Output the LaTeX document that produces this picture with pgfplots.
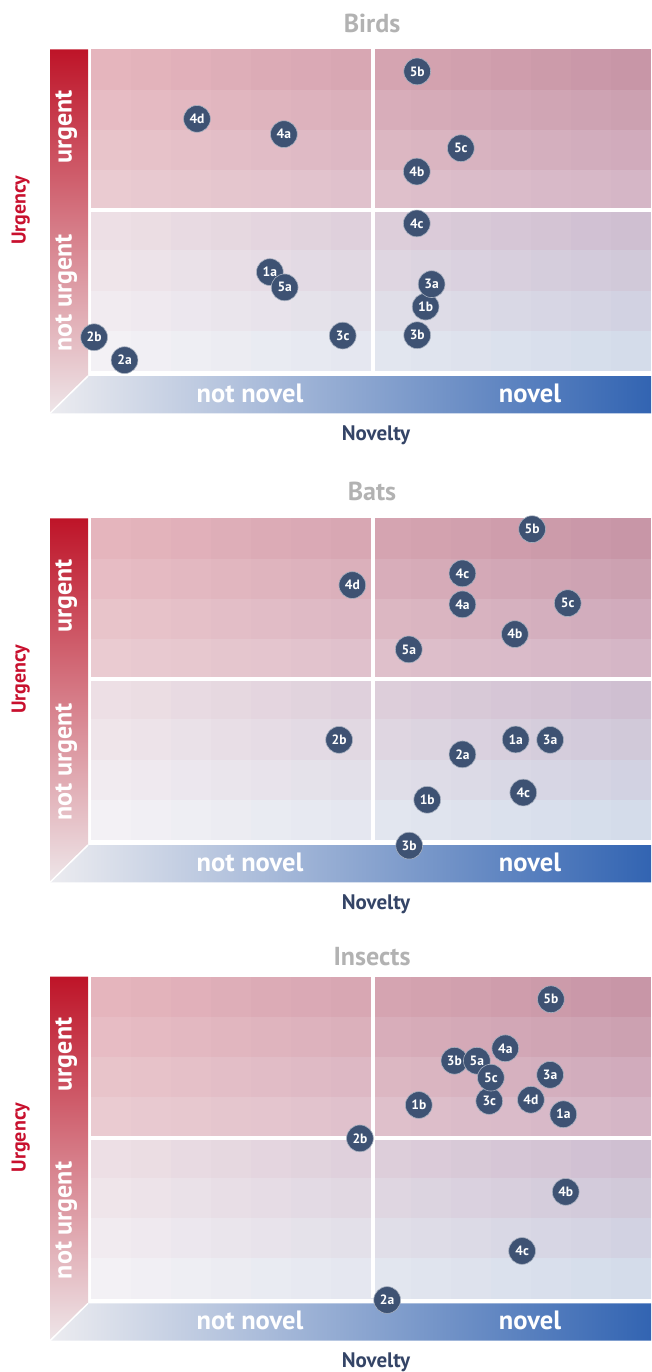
\documentclass[border=0pt]{standalone}
\usepackage{pgfplots}
\pgfplotsset{compat=1.18}
\usepackage{pgfplotstable}
\usepackage{fontspec}
\setmainfont{PT Sans}

\definecolor{dotblue}{RGB}{62,82,115}
\definecolor{titlegrey}{RGB}{178,178,178}
\definecolor{urgred}{RGB}{200,16,46}
\definecolor{novnavy}{RGB}{52,68,102}
\definecolor{redtop}{RGB}{190,20,40}
\definecolor{redmid}{RGB}{212,106,119}
\definecolor{redbot}{RGB}{238,230,233}
\definecolor{blueleft}{RGB}{236,236,240}
\definecolor{bluemid}{RGB}{140,165,207}
\definecolor{blueright}{RGB}{50,100,178}

\pgfplotstableread{
x y lab
4.48 2.46 1a
8.37 1.60 1b
0.85 0.27 2a
0.09 0.84 2b
8.52 2.16 3a
8.16 0.89 3b
6.30 0.88 3c
4.83 5.89 4a
8.15 4.96 4b
8.15 3.67 4c
2.66 6.27 4d
4.85 2.08 5a
8.16 7.45 5b
9.25 5.54 5c
}\birds

\pgfplotstableread{
x y lab
10.62 2.50 1a
8.41 1.00 1b
9.29 2.13 2a
6.21 2.49 2b
11.48 2.49 3a
7.96 -0.14 3b
9.29 5.86 4a
10.60 5.12 4b
9.29 6.63 4c
10.81 1.18 4c
6.54 6.34 4d
7.95 4.74 5a
11.03 7.73 5b
11.92 5.89 5c
}\bats

\pgfplotstableread{
x y lab
11.81 4.58 1a
8.20 4.81 1b
7.41 -0.04 2a
6.73 3.98 2b
11.48 5.56 3a
9.09 5.91 3b
9.96 4.91 3c
10.36 6.22 4a
11.87 2.65 4b
10.78 1.18 4c
11.00 4.94 4d
9.65 5.91 5a
11.50 7.44 5b
10.00 5.49 5c
}\insects

% bilinear cell colour
\newcommand\cellclr[2]{%
  \pgfmathsetmacro\cs{#1/13}%
  \ifnum#2<4
    \pgfmathsetmacro\ct{#2/3}%
    \pgfmathtruncatemacro\cR{round((1-\cs)*(1-\ct)*229+\cs*(1-\ct)*200+(1-\cs)*\ct*234+\cs*\ct*213)}%
    \pgfmathtruncatemacro\cG{round((1-\cs)*(1-\ct)*181+\cs*(1-\ct)*150+(1-\cs)*\ct*203+\cs*\ct*182)}%
    \pgfmathtruncatemacro\cB{round((1-\cs)*(1-\ct)*189+\cs*(1-\ct)*167+(1-\cs)*\ct*209+\cs*\ct*198)}%
  \else
    \pgfmathsetmacro\ct{(#2-4)/3}%
    \pgfmathtruncatemacro\cR{round((1-\cs)*(1-\ct)*237+\cs*(1-\ct)*207+(1-\cs)*\ct*243+\cs*\ct*212)}%
    \pgfmathtruncatemacro\cG{round((1-\cs)*(1-\ct)*223+\cs*(1-\ct)*191+(1-\cs)*\ct*241+\cs*\ct*220)}%
    \pgfmathtruncatemacro\cB{round((1-\cs)*(1-\ct)*229+\cs*(1-\ct)*209+(1-\cs)*\ct*245+\cs*\ct*234)}%
  \fi
  \definecolor{cc}{RGB}{\cR,\cG,\cB}%
}

% #1 top (pt from page top), #2 title, #3 title baseline offset above top, #4 table
\newcommand\panel[4]{%
  \def\PT{#1}%
  \pgfmathsetmacro\AY{-\PT-321.7}%
  % background cells
  \foreach \i in {0,...,13}{%
    \foreach \j in {0,...,7}{%
      \cellclr{\i}{\j}%
      \fill[cc] (90.5+\i*40.036,-\PT-\j*40.2125) rectangle ++(40.4,-40.5);
    }%
  }%
  % white cross
  \fill[white] (370.8,-\PT) rectangle (374.8,-\PT-321.7);
  \fill[white] (90.5,-\PT-158.9) rectangle (651,-\PT-162.9);
  % red bar
  \shade[top color=redtop, middle color=redmid, bottom color=redbot]
    (50,-\PT) -- (88,-\PT) -- (88,-\PT-326.7) -- (50,-\PT-364) -- cycle;
  % blue bar
  \shade[left color=blueleft, middle color=bluemid, right color=blueright]
    (88,-\PT-326.7) -- (651,-\PT-326.7) -- (651,-\PT-364) -- (50,-\PT-364) -- cycle;
  \draw[white, line width=1.5pt] (88,-\PT-326.7) -- (50,-\PT-364);
  % texts
  \node[anchor=base, text=titlegrey, font=\bfseries\fontsize{26}{28}\selectfont] at (372,-\PT+#3) {#2};
  \node[rotate=90, anchor=base, text=white, font=\bfseries\fontsize{26}{28}\selectfont] at (71.5,-\PT-77.7) {urgent};
  \node[rotate=90, anchor=base, text=white, font=\bfseries\fontsize{26}{28}\selectfont] at (71.5,-\PT-243.7) {not urgent};
  \node[anchor=base, text=white, font=\bfseries\fontsize{26.5}{28}\selectfont] at (250,-\PT-352.7) {not novel};
  \node[anchor=base, text=white, font=\bfseries\fontsize{26.5}{28}\selectfont] at (530,-\PT-352.7) {novel};
  \node[anchor=base, text=novnavy, font=\bfseries\fontsize{21}{23}\selectfont] at (376,-\PT-391) {Novelty};
  \node[rotate=90, anchor=base, text=urgred, font=\bfseries\fontsize{20}{22}\selectfont] at (25.5,-\PT-161) {Urgency};
  % data
  \begin{axis}[at={(90.5pt,\AY pt)}, anchor=south west, scale only axis,
    width=560.5pt, height=321.7pt, xmin=0, xmax=14, ymin=0, ymax=8,
    hide axis, clip=false]
    \addplot[only marks, mark=*, mark size=13.4pt,
      mark options={fill=dotblue, draw=white!55!dotblue, line width=0.6pt},
      nodes near coords, point meta=explicit symbolic,
      every node near coord/.append style={anchor=center, text=white, inner sep=0pt,
        font=\bfseries\fontsize{13.5}{15}\selectfont}]
      table[x=x, y=y, meta=lab] {#4};
  \end{axis}
}

\begin{document}
\begin{tikzpicture}[x=1pt, y=1pt]
\path[use as bounding box] (0,0) rectangle (651,-1372);
\panel{49.3}{Birds}{16.6}{\birds}
\panel{518.3}{Bats}{17.6}{\bats}
\panel{976.7}{Insects}{11.7}{\insects}
\end{tikzpicture}
\end{document}
